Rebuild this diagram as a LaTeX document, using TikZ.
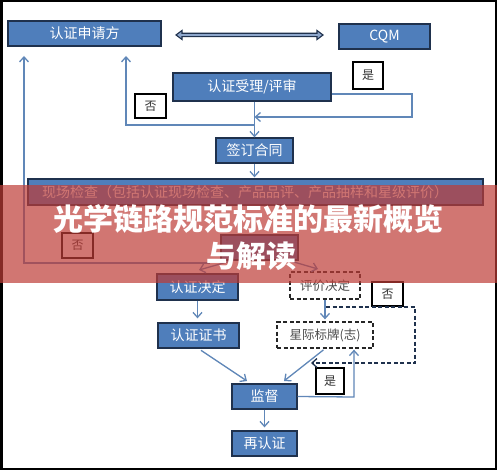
\documentclass[tikz,border=0pt]{standalone}
\usepackage{fontspec}
\newfontfamily\cjk{Noto Sans CJK SC}
\usetikzlibrary{arrows.meta}
\definecolor{boxblue}{HTML}{4F7EBB}
\definecolor{boxedge}{HTML}{1F314D}
\definecolor{lineblue}{HTML}{6087B8}
\definecolor{bannerred}{RGB}{190,60,55}
\definecolor{arrfill}{HTML}{8DA6CB}
\tikzset{
  bbox/.style={draw=boxedge, line width=1.3pt, fill=boxblue, text=white, inner sep=0pt,
    font=\cjk\fontsize{14}{16}\selectfont},
  tagbox/.style={draw=black, line width=1.1pt, fill=white, text=black!80, inner sep=0pt,
    font=\cjk\fontsize{12}{14}\selectfont},
  dbox/.style={draw=black!85, dash pattern=on 4pt off 2.5pt, line width=1.3pt, fill=white,
    text=black!70, inner sep=0pt, font=\cjk\fontsize{12.5}{14}\selectfont},
  conn/.style={draw=lineblue, line width=1.3pt, -{Straight Barb[length=5pt,width=9pt]}},
  dconn/.style={draw=boxedge, line width=1.3pt, dash pattern=on 4pt off 2.5pt,
    -{Straight Barb[length=5pt,width=9pt]}},
  bannertext/.style={text=white, inner sep=0pt, font=\cjk\bfseries\fontsize{30}{36}\selectfont}
}
\begin{document}
\begin{tikzpicture}[x=1pt,y=-1pt]
\useasboundingbox (0,0) rectangle (497,470);
\fill[white] (0,0) rectangle (497,470);

% nodes
\node[bbox, minimum width=153pt, minimum height=25pt] (sqf) at (84.5,33.5) {认证申请方};
\node[bbox, minimum width=91pt, minimum height=25pt] (cqm) at (384.5,36.5) {CQM};
\node[tagbox, minimum width=30pt, minimum height=27pt] (shi1) at (368,75.5) {是};
\node[bbox, minimum width=158pt, minimum height=28pt] (shouli) at (252,87) {认证受理/评审};
\node[tagbox, minimum width=31pt, minimum height=24pt] (fou1) at (150.5,106) {否};
\node[bbox, minimum width=77pt, minimum height=25pt] (qd) at (254.5,150.5) {签订合同};
\node[bbox, minimum width=455pt, minimum height=26pt] (xc) at (255.5,192) {};
\node[text=white, inner sep=0pt, font=\cjk\fontsize{14}{16}\selectfont] (xctext) at (245,192) {现场检查（包括认证现场检查、产品品评、产品抽样和星级评价）};
\node[tagbox, minimum width=31pt, minimum height=25pt] (fou2) at (77.5,245.5) {否};
\node[bbox, minimum width=77pt, minimum height=25pt] (hid) at (259.5,247.5) {};
\node[bbox, minimum width=81pt, minimum height=26pt] (jd) at (197.5,287) {认证决定};
\node[dbox, minimum width=70pt, minimum height=27pt] (pj) at (325,285.5) {评价决定};
\node[tagbox, minimum width=31pt, minimum height=24pt] (fou3) at (387.5,294) {否};
\node[bbox, minimum width=81pt, minimum height=25pt] (zs) at (198.5,335.5) {认证证书};
\node[dbox, minimum width=96pt, minimum height=26pt] (xj) at (325,335) {星际标牌(志)};
\node[bbox, minimum width=65pt, minimum height=25pt] (jdu) at (264.5,396.5) {监督};
\node[tagbox, minimum width=28pt, minimum height=26pt] (shi2) at (330,381) {是};
\node[bbox, minimum width=65pt, minimum height=25pt] (zrz) at (264.5,443.5) {再认证};

% double arrow between 认证申请方 and CQM
\coordinate (da1) at (176,35);
\coordinate (da2) at (323,35);
\filldraw[fill=arrfill, draw=boxedge, line width=1.1pt]
  (da1) -- (182,30.5) -- (182,33.3) -- (317,33.3) -- (317,30.5) -- (da2)
  -- (317,39.5) -- (317,36.7) -- (182,36.7) -- (182,39.5) -- cycle;

% connectors
\draw[conn] (qd.north |- shouli.south) -- (qd.north);
\coordinate (y1) at (412,94);
\coordinate (y2) at (412,117);
\draw[conn] (shouli.east |- y1) -- (y1) -- (y2) -- (qd.north |- y2);
\coordinate (n1) at (254.5,125);
\coordinate (n2) at (126,125);
\coordinate (n3) at (126,56);
\draw[conn] (n1) -- (n2) -- (n3);
\draw[conn, shorten >=1pt] (qd.south) -- (qd.south |- xc.north);

\coordinate (m1) at (210,263);
\coordinate (m2) at (24,263);
\coordinate (m3) at (24,56);
\draw[conn] (m1) -- (m2) -- (m3);
\coordinate (hl) at (234,260);
\coordinate (hr) at (287,260);
\coordinate (tl) at (199,270);
\coordinate (tr) at (318,269);
\draw[conn] (hl) -- (tl);
\draw[conn] (hr) -- (tr);

\draw[conn, shorten >=4pt] (jd.south) -- (jd.south |- zs.north);
\draw[conn, shorten >=2pt] (pj.south) -- (xj.north);
\coordinate (q0) at (326,307);
\coordinate (q1) at (415,307);
\coordinate (q2) at (415,363);
\coordinate (q3) at (311,363);
\draw[dconn] (q0) -- (q1) -- (q2) -- (q3);

\coordinate (t1) at (247,381);
\coordinate (t2) at (284,381);
\draw[conn, shorten <=3pt] (zs.south) -- (t1);
\draw[conn, shorten <=2pt] (xj.south) -- (t2);
\coordinate (u1) at (354,397);
\draw[conn, shorten >=1pt] (jdu.east) -- (u1) -- (u1 |- xj.south);
\draw[conn, shorten >=3pt] (jdu.south) -- (zrz.north);

% frame
\draw[black, line width=2.5pt] (1.25,1.25) rectangle (495.75,468.75);

% banner
\fill[bannerred, opacity=0.7] (0,185) rectangle (497,283);
\node[bannertext] (b1) at (248,219) {光学链路规范标准的最新概览};
\node[bannertext] (b2) at (251,256) {与解读};
\end{tikzpicture}
\end{document}
